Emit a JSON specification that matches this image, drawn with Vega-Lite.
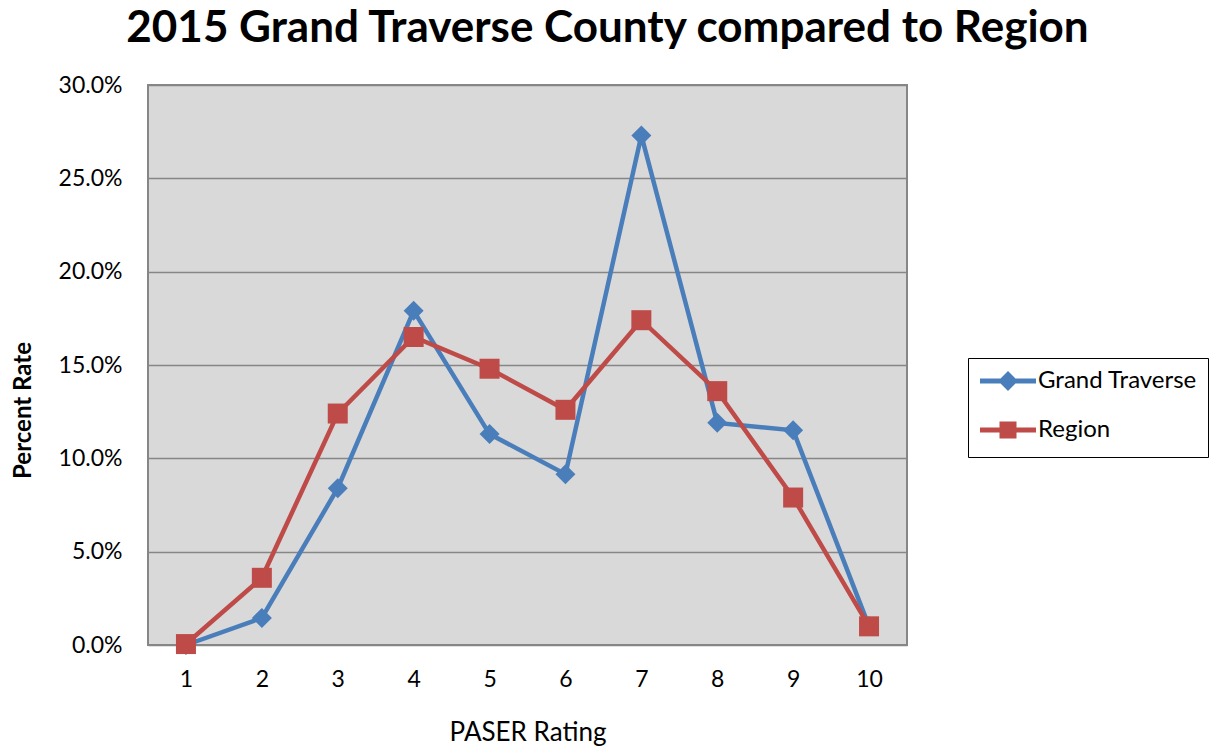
{
  "$schema": "https://vega.github.io/schema/vega-lite/v6.json",
  "autosize": "none",
  "width": 759,
  "height": 560,
  "padding": {"left": 148, "top": 85, "right": 314, "bottom": 107},
  "background": "white",
  "title": {
    "text": "2015 Grand Traverse County compared to Region",
    "font": "Lato",
    "fontSize": 44,
    "fontWeight": "bold",
    "color": "black",
    "anchor": "middle",
    "frame": "group",
    "baseline": "alphabetic",
    "dx": 80,
    "dy": 27,
    "offset": 15
  },
  "config": {
    "view": {"fill": "#D9D9D9", "stroke": "#868686", "strokeWidth": 2},
    "font": "Lato"
  },
  "data": {
    "values": [
      {"rating": 1, "series": "Grand Traverse", "value": 0.0},
      {"rating": 2, "series": "Grand Traverse", "value": 0.0145},
      {"rating": 3, "series": "Grand Traverse", "value": 0.084},
      {"rating": 4, "series": "Grand Traverse", "value": 0.179},
      {"rating": 5, "series": "Grand Traverse", "value": 0.113},
      {"rating": 6, "series": "Grand Traverse", "value": 0.0915},
      {"rating": 7, "series": "Grand Traverse", "value": 0.273},
      {"rating": 8, "series": "Grand Traverse", "value": 0.119},
      {"rating": 9, "series": "Grand Traverse", "value": 0.115},
      {"rating": 10, "series": "Grand Traverse", "value": 0.010},
      {"rating": 1, "series": "Region", "value": 0.0005},
      {"rating": 2, "series": "Region", "value": 0.036},
      {"rating": 3, "series": "Region", "value": 0.124},
      {"rating": 4, "series": "Region", "value": 0.165},
      {"rating": 5, "series": "Region", "value": 0.148},
      {"rating": 6, "series": "Region", "value": 0.126},
      {"rating": 7, "series": "Region", "value": 0.174},
      {"rating": 8, "series": "Region", "value": 0.136},
      {"rating": 9, "series": "Region", "value": 0.079},
      {"rating": 10, "series": "Region", "value": 0.010}
    ]
  },
  "encoding": {
    "x": {
      "field": "rating",
      "type": "ordinal",
      "scale": {"type": "point", "padding": 0.5},
      "axis": {
        "title": "PASER Rating",
        "labelAngle": 0,
        "ticks": false,
        "domain": false,
        "grid": false,
        "labelFont": "Lato",
        "labelFontSize": 23,
        "labelColor": "black",
        "labelPadding": 23,
        "titleFont": "Lato",
        "titleFontSize": 26,
        "titleFontWeight": "normal",
        "titleColor": "black",
        "titlePadding": 28
      }
    },
    "y": {
      "field": "value",
      "type": "quantitative",
      "scale": {"domain": [0, 0.3], "nice": false},
      "axis": {
        "values": [0, 0.05, 0.1, 0.15, 0.2, 0.25, 0.3],
        "format": ".1%",
        "ticks": false,
        "domain": false,
        "gridColor": "#868686",
        "gridWidth": 1.5,
        "labelFont": "Lato",
        "labelFontSize": 23,
        "labelColor": "black",
        "labelPadding": 26,
        "title": "Percent Rate",
        "titleFont": "Lato",
        "titleFontSize": 24,
        "titleFontWeight": "bold",
        "titleColor": "black",
        "titleAngle": -90,
        "titleX": -125,
        "titleY": 325,
        "titleAlign": "center",
        "titleBaseline": "middle"
      }
    },
    "color": {
      "field": "series",
      "type": "nominal",
      "scale": {"domain": ["Grand Traverse", "Region"], "range": ["#4A7EBB", "#BE4B48"]},
      "legend": {
        "title": null,
        "orient": "none",
        "legendX": 820,
        "legendY": 273,
        "strokeColor": "black",
        "padding": 11,
        "labelFont": "Lato",
        "labelFontSize": 24,
        "labelColor": "black",
        "symbolSize": 256,
        "symbolStrokeWidth": 5,
        "symbolOffset": 17,
        "labelOffset": 18,
        "rowPadding": 16,
        "symbolOpacity": 1,
        "encode": {
          "symbols": {
            "update": {
              "shape": {"signal": "datum.value === 'Region' ? 'M-3.5,0H3.5M-0.75,-0.75H0.75V0.75H-0.75Z' : 'M-3.5,0H3.5M0,-0.8L0.8,0L0,0.8L-0.8,0Z'"},
              "fill": {"signal": "datum.value === 'Region' ? '#BE4B48' : '#4A7EBB'"},
              "stroke": {"signal": "datum.value === 'Region' ? '#BE4B48' : '#4A7EBB'"},
              "strokeWidth": {"value": 5},
              "opacity": {"value": 1}
            }
          }
        }
      }
    }
  },
  "layer": [
    {
      "mark": {"type": "line", "strokeWidth": 4.5}
    },
    {
      "transform": [{"filter": "datum.series === 'Grand Traverse'"}],
      "mark": {"type": "point", "filled": true, "size": 400, "opacity": 1, "shape": "diamond"}
    },
    {
      "transform": [{"filter": "datum.series === 'Region'"}],
      "mark": {"type": "point", "filled": true, "size": 400, "opacity": 1, "shape": "square"}
    }
  ]
}
